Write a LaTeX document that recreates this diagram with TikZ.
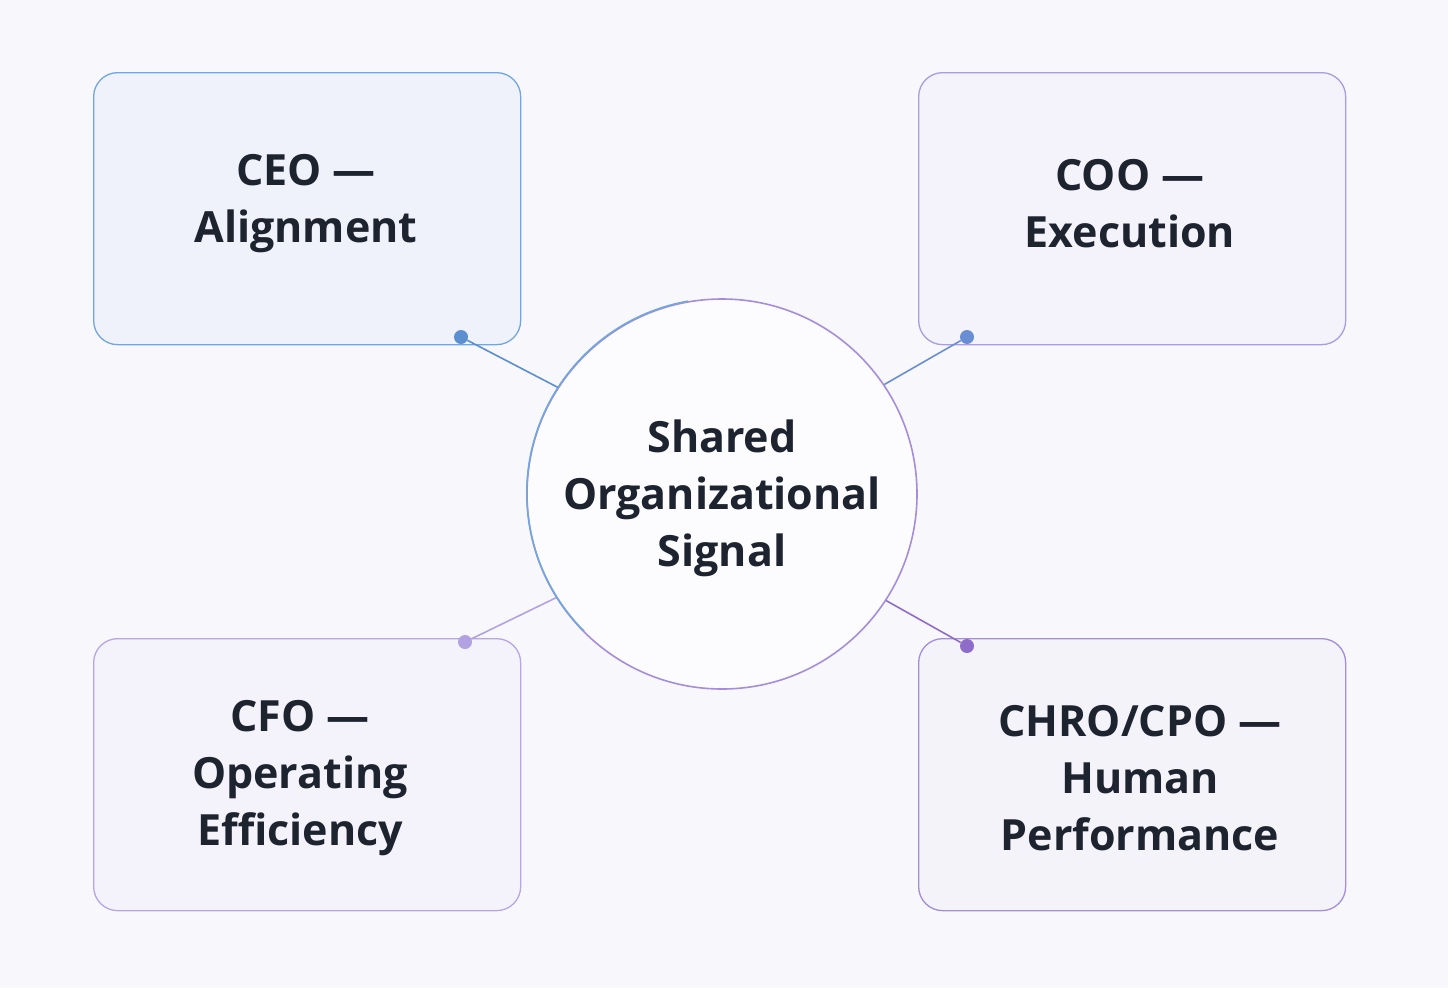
\documentclass[tikz,border=0pt]{standalone}
\usepackage{fontspec}
\setmainfont{Open Sans}
\begin{document}
\begin{tikzpicture}[x=1pt,y=-1pt,
  box/.style={draw=#1,line width=1.3pt,rounded corners=24pt,minimum width=427pt,minimum height=272pt,anchor=north west},
  lbl/.style={font=\fontsize{43}{57}\selectfont\bfseries,text=txt,align=center},
  dot/.style={circle,fill=#1,inner sep=0pt,minimum size=14pt},
  link/.style={draw=#1,line width=1.6pt}]
\definecolor{bg}{HTML}{F8F8FC}
\definecolor{txt}{HTML}{1E2330}
\definecolor{cb}{HTML}{72A6DE}
\definecolor{cp1}{HTML}{A99DDF}
\definecolor{cp2}{HTML}{B7A6E6}
\definecolor{cp3}{HTML}{A58DD9}
\definecolor{dceo}{HTML}{5C8FD0}
\definecolor{dcoo}{HTML}{6A8ED4}
\definecolor{dcfo}{HTML}{B3A2E2}
\definecolor{dchro}{HTML}{8F6CC9}
\fill[bg] (0,0) rectangle (1448,988);
\useasboundingbox (0,0) rectangle (1448,988);
\node[box=cb,fill=cb!7!bg] (ceo) at (93,72) {};
\node[box=cp1,fill=cp1!5!bg] (coo) at (918,72) {};
\node[box=cp2,fill=cp2!6!bg] (cfo) at (93,638) {};
\node[box=cp3,fill=cp3!5!bg] (chro) at (918,638) {};
\node[lbl] at (306,204) {CEO —\\Alignment};
\node[lbl] at (1130,204) {COO —\\Execution};
\node[lbl] at (300,778) {CFO —\\Operating\\Efficiency};
\node[lbl] at (1140,778) {CHRO/CPO —\\Human\\Performance};
\node[circle,minimum size=390pt,inner sep=0pt,fill=white!60!bg,draw=cp3,line width=1.6pt] (sig) at (722,494) {};
\draw[cb,line width=1.6pt] (sig.100) arc[start angle=-100,end angle=-225,radius=195];
\node[lbl] at (722,498) {Shared\\Organizational\\Signal};
\node[dot=dceo] (d1) at (461,337) {};
\node[dot=dcoo] (d2) at (967,337) {};
\node[dot=dcfo] (d3) at (465,642) {};
\node[dot=dchro] (d4) at (967,646) {};
\draw[link=dceo] (d1) -- (sig.147);
\draw[link=dcoo] (d2) -- (sig.34);
\draw[link=dcfo] (d3) -- (sig.212);
\draw[link=dchro] (d4) -- (sig.327);
\end{tikzpicture}
\end{document}
